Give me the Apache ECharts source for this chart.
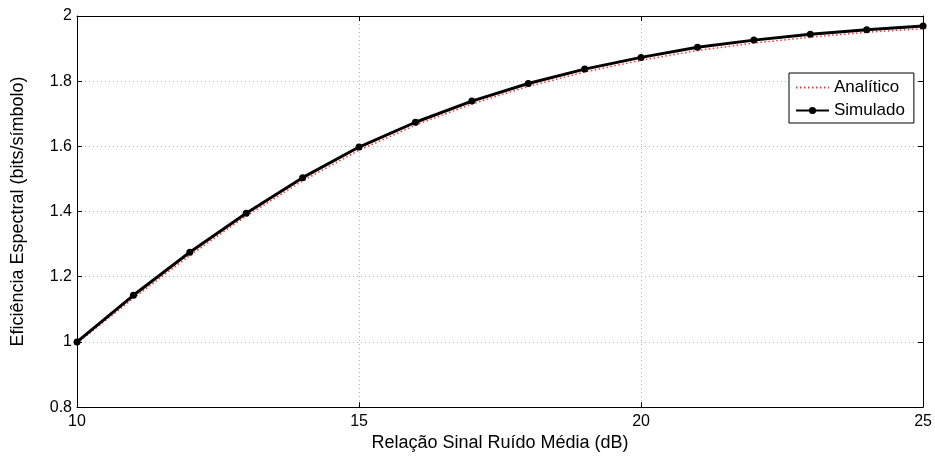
<!DOCTYPE html>
<html>
<head>
<meta charset="utf-8">
<script src="https://cdn.jsdelivr.net/npm/echarts@6/dist/echarts.min.js"></script>
<style>html,body{margin:0;padding:0;background:#fff}#c{width:935px;height:457px}</style>
</head>
<body>
<div id="c"></div>
<script>
const snrDb = [10,11,12,13,14,15,16,17,18,19,20,21,22,23,24,25];
const simulado = [1.000,1.143,1.275,1.395,1.504,1.598,1.674,1.739,1.793,1.837,1.873,1.904,1.926,1.944,1.958,1.969];
const analitico = [0.996,1.134,1.265,1.386,1.494,1.588,1.665,1.730,1.784,1.828,1.864,1.894,1.917,1.935,1.950,1.961];
const xTitle = 'Relação Sinal Ruído Média (dB)';
const yTitle = 'Eficiência Espectral (bits/símbolo)';
const seriesNames = ['Analítico','Simulado'];

const font = 'Liberation Sans, Arial, Helvetica, sans-serif';
const chart = echarts.init(document.getElementById('c'));
const axisLine = {show:true, lineStyle:{color:'#000', width:1}};
const tick = {show:true, inside:true, length:5, lineStyle:{color:'#000'}};
const grid = {show:true, lineStyle:{color:'#b4b4b4', width:1, type:[1,3]}};
chart.setOption({
  animation:false,
  backgroundColor:'#fff',
  grid:{left:77, right:11, top:16, bottom:49},
  legend:{
    left:789, top:73, orient:'vertical',
    data:[{name:seriesNames[0], itemStyle:{opacity:0}}, {name:seriesNames[1]}],
    itemWidth:33, itemHeight:9, itemGap:6,
    padding:[6,9,4,6],
    borderColor:'#000', borderWidth:1, backgroundColor:'#fff',
    textStyle:{fontFamily:font, fontSize:17, lineHeight:17, color:'#000'}
  },
  xAxis:[{
    type:'value', min:10, max:25, interval:5,
    axisLine, axisTick:tick, splitLine:grid,
    axisLabel:{fontFamily:font, fontSize:16, color:'#000', margin:6},
    name:xTitle, nameLocation:'middle', nameGap:23,
    nameTextStyle:{fontFamily:font, fontSize:18, color:'#000'}
  },{
    type:'value', position:'top', min:10, max:25, interval:5,
    axisLine, axisTick:tick, splitLine:{show:false}, axisLabel:{show:false}
  }],
  yAxis:[{
    type:'value', min:0.8, max:2, interval:0.2,
    axisLine, axisTick:tick, splitLine:grid,
    axisLabel:{fontFamily:font, fontSize:16, color:'#000', margin:5},
    name:yTitle, nameLocation:'middle', nameGap:50,
    nameTextStyle:{fontFamily:font, fontSize:18, color:'#000'}
  },{
    type:'value', position:'right', min:0.8, max:2, interval:0.2,
    axisLine, axisTick:tick, splitLine:{show:false}, axisLabel:{show:false}
  }],
  series:[{
    name:seriesNames[0], type:'line', symbol:'none',
    data:snrDb.map((x,i)=>[x,analitico[i]]),
    lineStyle:{color:'#ff3030', width:1.5, type:[1.5,2.5]},
    itemStyle:{color:'#ff3030'}, z:2
  },{
    name:seriesNames[1], type:'line', symbol:'circle', symbolSize:7,
    data:snrDb.map((x,i)=>[x,simulado[i]]),
    lineStyle:{color:'#000', width:3},
    itemStyle:{color:'#000'}, z:3
  }]
});
</script>
</body>
</html>
